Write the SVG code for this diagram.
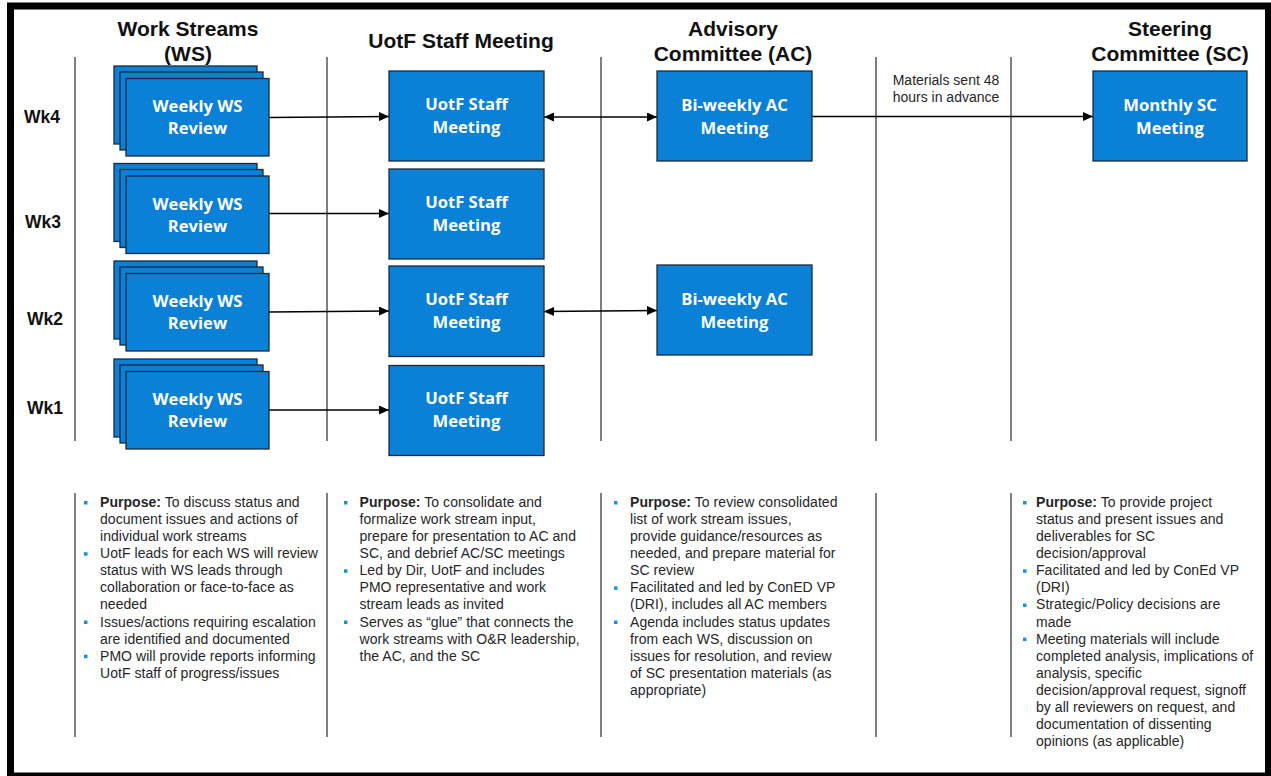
<svg xmlns="http://www.w3.org/2000/svg" width="1271" height="776" viewBox="0 0 1271 776">
  <style>
    .frame { fill: #ffffff; stroke: #000000; stroke-width: 7; }
    .lane { stroke: #3a3a3a; stroke-width: 1.3; }
    .box { fill: #0A80D6; stroke: #1B2A3A; stroke-width: 1.3; }
    .head { font-family: "Liberation Sans", Arial, sans-serif; font-weight: bold; font-size: 21px; fill: #111111; text-anchor: middle; }
    .wk { font-family: "Liberation Sans", Arial, sans-serif; font-weight: bold; font-size: 17.5px; fill: #111111; text-anchor: middle; }
    .lbl { font-family: "Open Sans", "Liberation Sans", sans-serif; font-weight: bold; font-size: 16.6px; fill: #ffffff; text-anchor: middle; }
    .note { font-family: "Liberation Sans", Arial, sans-serif; font-size: 14px; fill: #262626; }
    .body { font-family: "Liberation Sans", Arial, sans-serif; font-size: 14px; letter-spacing: 0.05px; fill: #262626; }
    .body .b { font-weight: bold; }
    .dot { fill: #1E90E0; }
    .conn { stroke: #000000; stroke-width: 1.3; fill: none; }
  </style>
  <defs>
    <marker id="arrow" viewBox="0 0 10 10" refX="10" refY="5" markerWidth="10" markerHeight="9" markerUnits="userSpaceOnUse" orient="auto-start-reverse" preserveAspectRatio="none">
      <path d="M0,0 L10,5 L0,10 z" fill="#000000"/>
    </marker>
  </defs>

  <!-- outer frame -->
  <rect class="frame" x="10.5" y="6" width="1258" height="770"/>

  <!-- column headers -->
  <g id="headers">
    <text class="head" x="188" y="36">Work Streams</text>
    <text class="head" x="188" y="61">(WS)</text>
    <text class="head" x="461" y="48">UotF Staff Meeting</text>
    <text class="head" x="733" y="36">Advisory</text>
    <text class="head" x="733" y="61">Committee (AC)</text>
    <text class="head" x="1170" y="36">Steering</text>
    <text class="head" x="1170" y="61">Committee (SC)</text>
  </g>

  <!-- week labels -->
  <g id="weeks">
    <text class="wk" x="42" y="123">Wk4</text>
    <text class="wk" x="43" y="228">Wk3</text>
    <text class="wk" x="45" y="325">Wk2</text>
    <text class="wk" x="45" y="414">Wk1</text>
  </g>

  <!-- lane dividers -->
  <g id="lanes">
    <line class="lane" x1="75" y1="57" x2="75" y2="441"/>
    <line class="lane" x1="327" y1="57" x2="327" y2="441"/>
    <line class="lane" x1="601" y1="57" x2="601" y2="441"/>
    <line class="lane" x1="876" y1="57" x2="876" y2="441"/>
    <line class="lane" x1="1011" y1="57" x2="1011" y2="441"/>
    <line class="lane" x1="75" y1="493" x2="75" y2="737"/>
    <line class="lane" x1="327" y1="493" x2="327" y2="737"/>
    <line class="lane" x1="601" y1="493" x2="601" y2="737"/>
    <line class="lane" x1="876" y1="493" x2="876" y2="737"/>
    <line class="lane" x1="1011" y1="493" x2="1011" y2="737"/>
  </g>

  <!-- connectors -->
  <g id="connectors">
    <line class="conn" x1="269" y1="117.5" x2="389" y2="116.5" marker-end="url(#arrow)"/>
    <line class="conn" x1="269" y1="213.5" x2="389" y2="213.5" marker-end="url(#arrow)"/>
    <line class="conn" x1="269" y1="312" x2="389" y2="311" marker-end="url(#arrow)"/>
    <line class="conn" x1="269" y1="410" x2="389" y2="410" marker-end="url(#arrow)"/>
    <line class="conn" x1="544" y1="117" x2="657" y2="117" marker-start="url(#arrow)" marker-end="url(#arrow)"/>
    <line class="conn" x1="544" y1="311.5" x2="657" y2="310.5" marker-start="url(#arrow)" marker-end="url(#arrow)"/>
    <line class="conn" x1="812" y1="116.5" x2="1093" y2="116.5" marker-end="url(#arrow)"/>
    <text class="note" x="946" y="85" text-anchor="middle">Materials sent 48</text>
    <text class="note" x="946" y="102" text-anchor="middle">hours in advance</text>
  </g>

  <!-- work stream review stacks -->
  <g id="ws-wk4">
    <rect class="box" x="114" y="66" width="143" height="78"/>
    <rect class="box" x="120" y="72" width="143" height="78"/>
    <rect class="box" x="126" y="78.5" width="143" height="77.5"/>
    <text class="lbl" x="197.5" y="112">Weekly WS</text>
    <text class="lbl" x="197.5" y="134">Review</text>
  </g>
  <g id="ws-wk3">
    <rect class="box" x="114" y="163.5" width="143" height="78"/>
    <rect class="box" x="120" y="169.5" width="143" height="78"/>
    <rect class="box" x="126" y="176" width="143" height="77.5"/>
    <text class="lbl" x="197.5" y="209.5">Weekly WS</text>
    <text class="lbl" x="197.5" y="231.5">Review</text>
  </g>
  <g id="ws-wk2">
    <rect class="box" x="114" y="261" width="143" height="78"/>
    <rect class="box" x="120" y="267" width="143" height="78"/>
    <rect class="box" x="126" y="273.5" width="143" height="77.5"/>
    <text class="lbl" x="197.5" y="307">Weekly WS</text>
    <text class="lbl" x="197.5" y="329">Review</text>
  </g>
  <g id="ws-wk1">
    <rect class="box" x="114" y="359" width="143" height="78"/>
    <rect class="box" x="120" y="365" width="143" height="78"/>
    <rect class="box" x="126" y="371.5" width="143" height="77.5"/>
    <text class="lbl" x="197.5" y="405">Weekly WS</text>
    <text class="lbl" x="197.5" y="427">Review</text>
  </g>

  <!-- UotF staff meetings -->
  <g id="uotf-wk4">
    <rect class="box" x="389" y="71" width="155" height="90"/>
    <text class="lbl" x="466.5" y="110">UotF Staff</text>
    <text class="lbl" x="466.5" y="133">Meeting</text>
  </g>
  <g id="uotf-wk3">
    <rect class="box" x="389" y="169" width="155" height="90"/>
    <text class="lbl" x="466.5" y="208">UotF Staff</text>
    <text class="lbl" x="466.5" y="231">Meeting</text>
  </g>
  <g id="uotf-wk2">
    <rect class="box" x="389" y="266" width="155" height="90.5"/>
    <text class="lbl" x="466.5" y="305">UotF Staff</text>
    <text class="lbl" x="466.5" y="328">Meeting</text>
  </g>
  <g id="uotf-wk1">
    <rect class="box" x="389" y="365.5" width="155" height="90"/>
    <text class="lbl" x="466.5" y="404">UotF Staff</text>
    <text class="lbl" x="466.5" y="427">Meeting</text>
  </g>

  <!-- advisory committee meetings -->
  <g id="ac-wk4">
    <rect class="box" x="657" y="71" width="155" height="90"/>
    <text class="lbl" x="734.5" y="110.5">Bi-weekly AC</text>
    <text class="lbl" x="734.5" y="133.5">Meeting</text>
  </g>
  <g id="ac-wk2">
    <rect class="box" x="657" y="265" width="155" height="90"/>
    <text class="lbl" x="734.5" y="304.5">Bi-weekly AC</text>
    <text class="lbl" x="734.5" y="327.5">Meeting</text>
  </g>

  <!-- steering committee meeting -->
  <g id="sc-wk4">
    <rect class="box" x="1093" y="71" width="154" height="90"/>
    <text class="lbl" x="1170" y="110.5">Monthly SC</text>
    <text class="lbl" x="1170" y="133.5">Meeting</text>
  </g>

  <!-- descriptions: work streams -->
  <g id="desc-ws" class="body">
    <rect class="dot" x="84" y="501" width="3.5" height="3.5"/>
    <rect class="dot" x="84" y="552.2" width="3.5" height="3.5"/>
    <rect class="dot" x="84" y="620.5" width="3.5" height="3.5"/>
    <rect class="dot" x="84" y="654.7" width="3.5" height="3.5"/>
    <text x="100" y="507"><tspan class="b">Purpose:</tspan> To discuss status and</text>
    <text x="100" y="524.1">document issues and actions of</text>
    <text x="100" y="541.2">individual work streams</text>
    <text x="100" y="558.2">UotF leads for each WS will review</text>
    <text x="100" y="575.3">status with WS leads through</text>
    <text x="100" y="592.4">collaboration or face-to-face as</text>
    <text x="100" y="609.4">needed</text>
    <text x="100" y="626.5">Issues/actions requiring escalation</text>
    <text x="100" y="643.6">are identified and documented</text>
    <text x="100" y="660.7">PMO will provide reports informing</text>
    <text x="100" y="677.7">UotF staff of progress/issues</text>
  </g>

  <!-- descriptions: UotF staff meeting -->
  <g id="desc-uotf" class="body">
    <rect class="dot" x="344" y="501" width="3.5" height="3.5"/>
    <rect class="dot" x="344" y="569.3" width="3.5" height="3.5"/>
    <rect class="dot" x="344" y="620.5" width="3.5" height="3.5"/>
    <text x="359.5" y="507"><tspan class="b">Purpose:</tspan> To consolidate and</text>
    <text x="359.5" y="524.1">formalize work stream input,</text>
    <text x="359.5" y="541.2">prepare for presentation to AC and</text>
    <text x="359.5" y="558.2">SC, and debrief AC/SC meetings</text>
    <text x="359.5" y="575.3">Led by Dir, UotF and includes</text>
    <text x="359.5" y="592.4">PMO representative and work</text>
    <text x="359.5" y="609.4">stream leads as invited</text>
    <text x="359.5" y="626.5">Serves as “glue” that connects the</text>
    <text x="359.5" y="643.6">work streams with O&amp;R leadership,</text>
    <text x="359.5" y="660.7">the AC, and the SC</text>
  </g>

  <!-- descriptions: advisory committee -->
  <g id="desc-ac" class="body">
    <rect class="dot" x="614" y="501" width="3.5" height="3.5"/>
    <rect class="dot" x="614" y="586.4" width="3.5" height="3.5"/>
    <rect class="dot" x="614" y="620.5" width="3.5" height="3.5"/>
    <text x="630" y="507"><tspan class="b">Purpose:</tspan> To review consolidated</text>
    <text x="630" y="524.1">list of work stream issues,</text>
    <text x="630" y="541.2">provide guidance/resources as</text>
    <text x="630" y="558.2">needed, and prepare material for</text>
    <text x="630" y="575.3">SC review</text>
    <text x="630" y="592.4">Facilitated and led by ConED VP</text>
    <text x="630" y="609.4">(DRI), includes all AC members</text>
    <text x="630" y="626.5">Agenda includes status updates</text>
    <text x="630" y="643.6">from each WS, discussion on</text>
    <text x="630" y="660.7">issues for resolution, and review</text>
    <text x="630" y="677.7">of SC presentation materials (as</text>
    <text x="630" y="694.8">appropriate)</text>
  </g>

  <!-- descriptions: steering committee -->
  <g id="desc-sc" class="body">
    <rect class="dot" x="1023" y="501" width="3.5" height="3.5"/>
    <rect class="dot" x="1023" y="569.3" width="3.5" height="3.5"/>
    <rect class="dot" x="1023" y="603.5" width="3.5" height="3.5"/>
    <rect class="dot" x="1023" y="637.6" width="3.5" height="3.5"/>
    <text x="1036" y="507"><tspan class="b">Purpose:</tspan> To provide project</text>
    <text x="1036" y="524.1">status and present issues and</text>
    <text x="1036" y="541.2">deliverables for SC</text>
    <text x="1036" y="558.2">decision/approval</text>
    <text x="1036" y="575.3">Facilitated and led by ConEd VP</text>
    <text x="1036" y="592.4">(DRI)</text>
    <text x="1036" y="609.4">Strategic/Policy decisions are</text>
    <text x="1036" y="626.5">made</text>
    <text x="1036" y="643.6">Meeting materials will include</text>
    <text x="1036" y="660.7">completed analysis, implications of</text>
    <text x="1036" y="677.7">analysis, specific</text>
    <text x="1036" y="694.8">decision/approval request, signoff</text>
    <text x="1036" y="711.9">by all reviewers on request, and</text>
    <text x="1036" y="729">documentation of dissenting</text>
    <text x="1036" y="746">opinions (as applicable)</text>
  </g>
</svg>
